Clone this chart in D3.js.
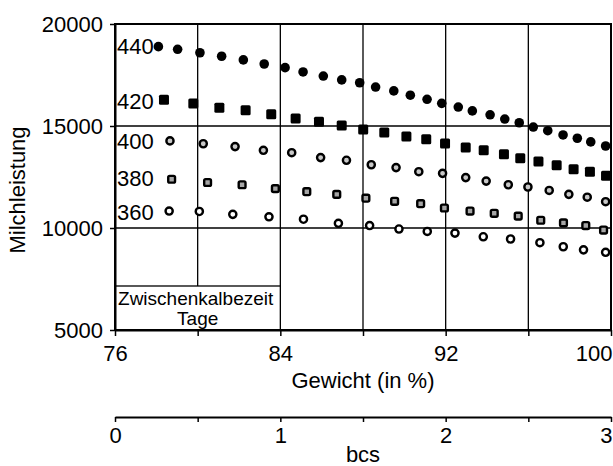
<!DOCTYPE html>
<html>
<head>
<meta charset="utf-8">
<script src="https://cdn.jsdelivr.net/npm/d3@7"></script>
<style>
  body { margin: 0; background: #fff; }
  svg, svg text { font-family: "Liberation Sans", Arial, sans-serif; }
  .axis text { font-size: 22px; fill: #000; }
  .axis path, .axis line { stroke: #000; }
</style>
</head>
<body>
<div id="chart"></div>
<script>
// data: Gewicht (in %) vs Milchleistung for each Zwischenkalbezeit
const seriesNames = ["440", "420", "400", "380", "360"];

const weight440 = [78.10, 79.03, 80.11, 81.16, 82.21, 83.22, 84.23, 85.10, 86.08, 86.97, 87.84, 88.61, 89.49, 90.29, 91.10, 91.81, 92.61, 93.29, 94.15, 94.86, 95.56, 96.24, 96.94, 97.68, 98.37, 99.02, 99.74];
const milk440 = [18890, 18760, 18590, 18420, 18240, 18040, 17860, 17650, 17450, 17260, 17120, 16910, 16720, 16510, 16310, 16110, 15930, 15740, 15550, 15340, 15160, 14950, 14770, 14560, 14400, 14220, 14020];

const weight420 = [78.37, 79.79, 81.05, 82.32, 83.56, 84.74, 85.87, 86.97, 88.01, 89.03, 90.10, 91.06, 91.97, 92.97, 93.84, 94.82, 95.61, 96.49, 97.37, 98.19, 98.98, 99.76];
const milk420 = [16290, 16100, 15900, 15770, 15570, 15370, 15210, 15030, 14830, 14680, 14480, 14350, 14140, 13950, 13810, 13620, 13420, 13260, 13080, 12880, 12760, 12560];

const weight400 = [78.66, 80.27, 81.81, 83.18, 84.55, 85.95, 87.20, 88.40, 89.60, 90.70, 91.85, 92.97, 93.96, 95.03, 95.98, 97.01, 97.96, 98.85, 99.74];
const milk400 = [14270, 14130, 13990, 13810, 13690, 13450, 13320, 13100, 12960, 12760, 12680, 12470, 12300, 12120, 12010, 11840, 11650, 11510, 11290];

const weight380 = [78.74, 80.48, 82.15, 83.76, 85.28, 86.73, 88.14, 89.53, 90.79, 91.94, 93.18, 94.35, 95.51, 96.60, 97.70, 98.78, 99.64];
const milk380 = [12390, 12230, 12120, 11930, 11780, 11650, 11460, 11310, 11190, 10980, 10830, 10720, 10580, 10380, 10250, 10120, 9900];

const weight360 = [78.62, 80.08, 81.70, 83.45, 85.12, 86.81, 88.32, 89.74, 91.11, 92.45, 93.82, 95.14, 96.56, 97.69, 98.67, 99.74];
const milk360 = [10830, 10810, 10670, 10550, 10430, 10230, 10120, 9950, 9830, 9750, 9570, 9460, 9280, 9080, 8930, 8810];

// label position of each series (value on the y axis where its name sits)
const labelMilk = [18920, 16190, 14250, 12440, 10760];

const xTicks = [76, 80, 84, 88, 92, 96, 100];
const yTicks = [5000, 10000, 15000, 20000];
const bcsTicks = [0, 0.5, 1, 1.5, 2, 2.5, 3];

const W = 613, H = 466;
const plotLeft = 115, plotRight = 611, plotTop = 24, plotBottom = 330;
const font = "'Liberation Sans', Arial, sans-serif";

const svg = d3.select("#chart").append("svg")
    .attr("width", W)
    .attr("height", H)
    .attr("font-family", font);

const x = d3.scaleLinear().domain([76, 100]).range([plotLeft, plotRight]);
const y = d3.scaleLinear().domain([5000, 20000]).range([plotBottom, plotTop]);
const bcs = d3.scaleLinear().domain([0, 3]).range([plotLeft, plotRight]);

// grid lines
svg.append("g").selectAll("line")
    .data(xTicks.slice(1, -1))
    .enter().append("line")
    .attr("x1", d => x(d)).attr("x2", d => x(d))
    .attr("y1", plotTop).attr("y2", plotBottom)
    .attr("stroke", "#000").attr("stroke-width", 1.3);

svg.append("g").selectAll("line")
    .data(yTicks.slice(1, -1))
    .enter().append("line")
    .attr("x1", plotLeft).attr("x2", plotRight)
    .attr("y1", d => y(d)).attr("y2", d => y(d))
    .attr("stroke", "#000").attr("stroke-width", 1.3);

// legend box "Zwischenkalbezeit Tage"
svg.append("rect")
    .attr("x", x(76)).attr("y", 286)
    .attr("width", x(84) - x(76)).attr("height", plotBottom - 286)
    .attr("fill", "#fff").attr("stroke", "#000").attr("stroke-width", 1.3);

svg.append("text")
    .attr("x", (x(76) + x(84)) / 2 - 2).attr("y", 305)
    .attr("text-anchor", "middle").attr("font-size", 19)
    .text("Zwischenkalbezeit");
svg.append("text")
    .attr("x", (x(76) + x(84)) / 2).attr("y", 325)
    .attr("text-anchor", "middle").attr("font-size", 19)
    .text("Tage");

// plot frame
svg.append("rect")
    .attr("x", plotLeft).attr("y", plotTop)
    .attr("width", plotRight - plotLeft).attr("height", plotBottom - plotTop)
    .attr("fill", "none").attr("stroke", "#000").attr("stroke-width", 2);

// markers
const toPoints = (xs, ys) => xs.map((d, i) => ({ w: d, m: ys[i] }));

function circles(data, r, fill, stroke) {
    svg.append("g").selectAll("circle")
        .data(data)
        .enter().append("circle")
        .attr("cx", d => x(d.w))
        .attr("cy", d => y(d.m))
        .attr("r", r)
        .attr("fill", fill)
        .attr("stroke", stroke ? "#000" : "none")
        .attr("stroke-width", 2.4);
}

function squares(data, s, fill, stroke) {
    svg.append("g").selectAll("rect")
        .data(data)
        .enter().append("rect")
        .attr("x", d => x(d.w) - s / 2)
        .attr("y", d => y(d.m) - s / 2)
        .attr("width", s).attr("height", s)
        .attr("rx", 1.5)
        .attr("fill", fill)
        .attr("stroke", stroke ? "#000" : "none")
        .attr("stroke-width", 2.4);
}

circles(toPoints(weight440, milk440), 4.8, "#000", false);
squares(toPoints(weight420, milk420), 10, "#000", false);
circles(toPoints(weight400, milk400), 3.6, "#c8c8c8", true);
squares(toPoints(weight380, milk380), 6.8, "#a6a6a6", true);
circles(toPoints(weight360, milk360), 3.6, "#fff", true);

// series names
svg.append("g").selectAll("text")
    .data(seriesNames)
    .enter().append("text")
    .attr("x", plotLeft + 2)
    .attr("y", (d, i) => y(labelMilk[i]))
    .attr("dy", "0.35em")
    .attr("font-size", 22)
    .text(d => d);

// y axis
const yAxis = svg.append("g")
    .attr("class", "axis")
    .attr("transform", `translate(${plotLeft},0)`)
    .call(d3.axisLeft(y).tickValues(yTicks).tickSize(5).tickSizeOuter(0).tickPadding(7)
        .tickFormat(d3.format("d")));
yAxis.attr("font-family", font);
yAxis.select(".domain").attr("stroke-width", 2);
yAxis.selectAll(".tick line").attr("stroke-width", 1.5);

// x axis (Gewicht)
const xAxis = svg.append("g")
    .attr("class", "axis")
    .attr("transform", `translate(0,${plotBottom})`)
    .call(d3.axisBottom(x).tickValues(xTicks).tickSize(6).tickSizeOuter(0).tickPadding(9)
        .tickFormat(d => (d - 76) % 8 === 0 ? d : ""));
xAxis.attr("font-family", font);
xAxis.select(".domain").attr("stroke-width", 2);
xAxis.selectAll(".tick line").attr("stroke-width", 1.5);
xAxis.selectAll(".tick text").filter(d => d === 100).attr("text-anchor", "end").attr("dx", 1);

// second axis (bcs)
const bAxis = svg.append("g")
    .attr("class", "axis")
    .attr("transform", "translate(0,417)")
    .call(d3.axisBottom(bcs).tickValues(bcsTicks).tickSize(5).tickSizeOuter(0).tickPadding(5)
        .tickFormat(d => Number.isInteger(d) ? d : ""));
bAxis.attr("font-family", font);
bAxis.select(".domain").attr("stroke-width", 2);
bAxis.selectAll(".tick line").attr("stroke-width", 1.5);
bAxis.selectAll(".tick text").filter(d => d === 3).attr("text-anchor", "end").attr("dx", 1);

// axis titles
svg.append("text")
    .attr("x", (plotLeft + plotRight) / 2).attr("y", 388)
    .attr("text-anchor", "middle").attr("font-size", 22)
    .text("Gewicht (in %)");

svg.append("text")
    .attr("x", (plotLeft + plotRight) / 2).attr("y", 462)
    .attr("text-anchor", "middle").attr("font-size", 22)
    .text("bcs");

svg.append("text")
    .attr("transform", "rotate(-90)")
    .attr("x", -190).attr("y", 25)
    .attr("text-anchor", "middle").attr("font-size", 22)
    .text("Milchleistung");
</script>
</body>
</html>
